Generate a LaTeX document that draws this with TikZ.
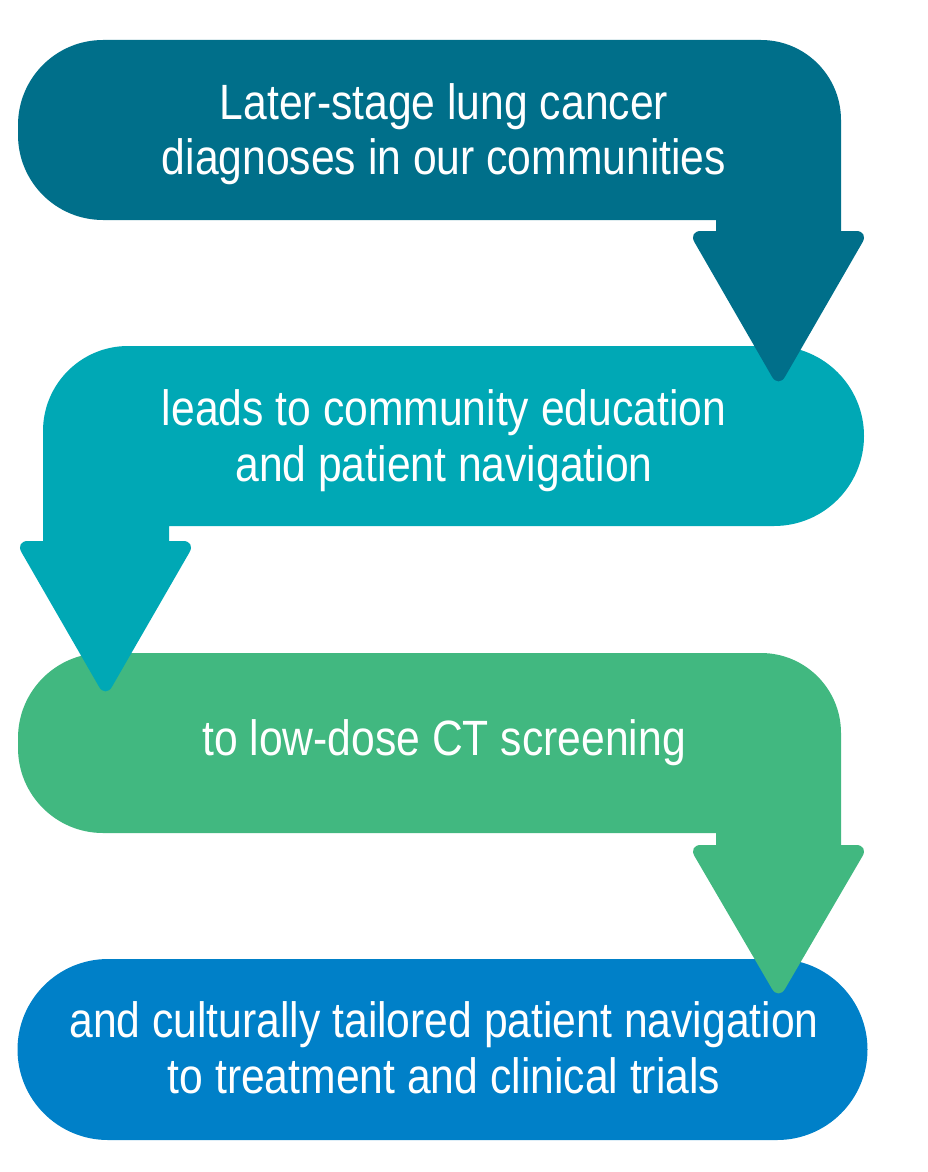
\documentclass[tikz,border=0pt]{standalone}
\usepackage{fontspec}
\setmainfont{Liberation Sans}[FakeStretch=0.86]
\definecolor{cA}{HTML}{006F8A}
\definecolor{cB}{HTML}{00A8B5}
\definecolor{cC}{HTML}{41B880}
\definecolor{cD}{HTML}{0080C8}
\begin{document}
\begin{tikzpicture}[x=1pt,y=1pt,
  txt/.style={text=white, font=\fontsize{49.6}{55}\selectfont, inner sep=0pt, anchor=base},
  head/.style={rounded corners=13}]
\useasboundingbox (0,0) rectangle (928,-1172);
% band 4
\fill[cD] (108,-959) -- (777,-959) arc[start angle=90,end angle=-90,radius=90.5]
  -- (108,-1140) arc[start angle=270,end angle=90,radius=90.5] -- cycle;
% band 3
\fill[cC] (103,-653) -- (761,-653) arc[start angle=90,end angle=0,radius=80]
  -- (841,-850) -- (716,-850) -- (716,-833) -- (103,-833)
  arc[start angle=270,end angle=180,radius=85] -- (18,-738)
  arc[start angle=180,end angle=90,radius=85] -- cycle;
\fill[cC,head] (688,-845) -- (869,-845) -- (778.5,-1000) -- cycle;
% band 2
\fill[cB] (43,-431) arc[start angle=180,end angle=90,radius=85]
  -- (774,-346) arc[start angle=90,end angle=-90,radius=90]
  -- (169,-526) -- (169,-545) -- (43,-545) -- cycle;
\fill[cB,head] (15,-541) -- (196,-541) -- (105.5,-698) -- cycle;
% band 1
\fill[cA] (103,-40) -- (761,-40) arc[start angle=90,end angle=0,radius=80]
  -- (841,-238) -- (716,-238) -- (716,-220) -- (103,-220)
  arc[start angle=270,end angle=180,radius=85] -- (18,-125)
  arc[start angle=180,end angle=90,radius=85] -- cycle;
\fill[cA,head] (688,-231) -- (869,-231) -- (778.5,-388) -- cycle;
% texts
\node[txt] (t1a) at (444,-119) {Later-stage lung cancer};
\node[txt] (t1b) at (444,-174) {diagnoses in our communities};
\node[txt] (t2a) at (444,-425) {leads to community education};
\node[txt] (t2b) at (444,-481) {and patient navigation};
\node[txt] (t3a) at (444,-755) {to low-dose CT screening};
\node[txt] (t4a) at (444,-1037) {and culturally tailored patient navigation};
\node[txt] (t4b) at (444,-1093) {to treatment and clinical trials};
\end{tikzpicture}
\end{document}
